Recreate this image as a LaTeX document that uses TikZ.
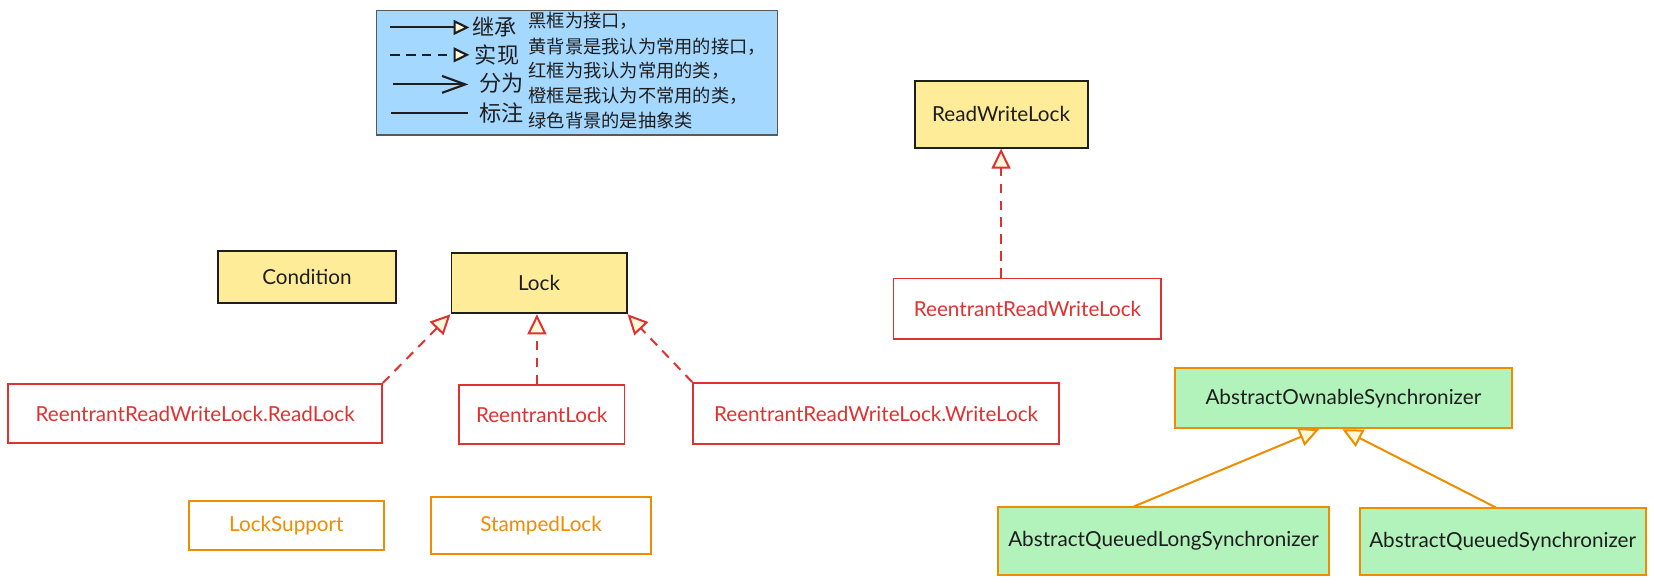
\documentclass[tikz,border=0pt]{standalone}
\usepackage{fontspec}
\setmainfont{Lato}
\newfontfamily\cjk{Noto Sans CJK SC}
\usetikzlibrary{arrows.meta}
\definecolor{ink}{HTML}{1E1E1E}
\definecolor{yel}{HTML}{FFEC99}
\definecolor{grn}{HTML}{B2F2BB}
\definecolor{blu}{HTML}{A5D8FF}
\definecolor{rd}{HTML}{E03131}
\definecolor{org}{HTML}{F08C00}
\definecolor{cream}{HTML}{FFF9DB}
\tikzset{
  box/.style={rectangle, inner sep=0pt, line width=1.8pt, font=\fontsize{19.6}{23}\selectfont},
  iface/.style={box, draw=ink, fill=yel, text=ink},
  redcls/.style={box, draw=rd, fill=white, text=rd},
  orgcls/.style={box, draw=org, fill=white, text=org},
  abscls/.style={box, draw=org, fill=grn, text=ink},
  opentri/.style={-{Triangle[fill=cream, length=19pt, width=18pt]}},
  smalltri/.style={-{Triangle[fill=cream, length=15pt, width=14pt]}},
  impl/.style={draw=rd, line width=1.9pt, dash pattern=on 9pt off 7pt, opentri},
  inh/.style={draw=org, line width=1.9pt, opentri},
  legline/.style={draw=ink, line width=2pt},
  legtxt/.style={inner sep=0pt, text=ink, font=\cjk\fontsize{17.3}{20}\selectfont, anchor=west},
  leglab/.style={inner sep=0pt, text=ink, font=\cjk\fontsize{21}{24}\selectfont, anchor=west}
}
\begin{document}
\begin{tikzpicture}[x=1pt, y=-1pt]
\useasboundingbox (0,0) rectangle (1568,554);
\fill[white] (0,0) rectangle (1568,554);

% legend
\node[rectangle, draw=black!65, line width=1.3pt, fill=blu, minimum width=380pt, minimum height=118pt, inner sep=0pt] (legend) at (547,69) {};
\coordinate (l1a) at (370,26); \coordinate (l1b) at (445,26);
\coordinate (l2a) at (370,52); \coordinate (l2b) at (445,52);
\coordinate (l3a) at (373,80); \coordinate (l3b) at (444,80);
\coordinate (l4a) at (371,107); \coordinate (l4b) at (444,107);
\draw[legline, smalltri] (l1a) -- (l1b);
\draw[legline, dash pattern=on 9pt off 6pt, smalltri] (l2a) -- (l2b);
\draw[legline, -{Straight Barb[length=22pt, width=16pt]}] (l3a) -- (l3b);
\draw[legline] (l4a) -- (l4b);
\node[leglab] (k1) at (448,26) {继承};
\node[leglab] (k2) at (450,52) {实现};
\node[leglab] (k3) at (454,79) {分为};
\node[leglab] (k4) at (454,107) {标注};
\node[legtxt] (t1) at (501,20) {黑框为接口，};
\node[legtxt] (t2) at (501,44) {黄背景是我认为常用的接口，};
\node[legtxt] (t3) at (501,67) {红框为我认为常用的类，};
\node[legtxt] (t4) at (501,91) {橙框是我认为不常用的类，};
\node[legtxt] (t5) at (501,114) {绿色背景的是抽象类};

% nodes
\node[iface, minimum width=164pt, minimum height=63pt] (rwl) at (949,108.5) {ReadWriteLock};
\node[redcls, minimum width=254pt, minimum height=57pt] (rrwl) at (974,292.5) {ReentrantReadWriteLock};
\node[iface, minimum width=168pt, minimum height=49pt] (cond) at (291,262.5) {Condition};
\node[iface, minimum width=166pt, minimum height=57pt] (lock) at (511,268.5) {Lock};
\node[redcls, minimum width=354pt, minimum height=56pt] (rlock) at (185,392) {ReentrantReadWriteLock.ReadLock};
\node[redcls, minimum width=157pt, minimum height=56pt] (relock) at (513.5,393) {ReentrantLock};
\node[redcls, minimum width=347pt, minimum height=58pt] (wlock) at (830.5,392) {ReentrantReadWriteLock.WriteLock};
\node[abscls, minimum width=319pt, minimum height=57pt] (aos) at (1273.5,377.5) {AbstractOwnableSynchronizer};
\node[abscls, minimum width=314pt, minimum height=64pt] (aqls) at (1103,513) {AbstractQueuedLongSynchronizer};
\node[abscls, minimum width=271pt, minimum height=63pt] (aqs) at (1424.5,513.5) {AbstractQueuedSynchronizer};
\node[orgcls, minimum width=185pt, minimum height=46pt] (ls) at (271.5,498) {LockSupport};
\node[orgcls, minimum width=208pt, minimum height=54pt] (sl) at (513,498) {StampedLock};

% connectors
\draw[impl] (rrwl.north -| rwl.south) -- (rwl.south);
\draw[impl] (rlock.north east) -- (lock.south west);
\draw[impl] ([xshift=-4.5pt]relock.north) -- ([xshift=-4.5pt]relock.north |- lock.south);
\draw[impl] (wlock.north west) -- (lock.south east);
\draw[inh] ([xshift=-28pt]aqls.north) -- ([xshift=-23pt]aos.south);
\draw[inh] ([xshift=-6.5pt]aqs.north) -- ([xshift=-1pt]aos.south);
\end{tikzpicture}
\end{document}
